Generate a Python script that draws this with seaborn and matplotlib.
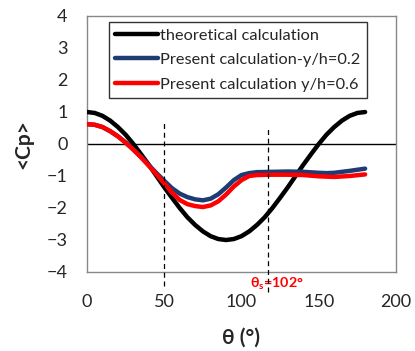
import numpy as np
import pandas as pd
import matplotlib
matplotlib.use("Agg")
import matplotlib.pyplot as plt
import seaborn as sns

# ---- data ----
theta_theory = [0, 5, 10, 15, 20, 25, 30, 35, 40, 45, 50, 55, 60, 65, 70, 75, 80, 85, 90,
                95, 100, 105, 110, 115, 120, 125, 130, 135, 140, 145, 150, 155, 160, 165, 170, 175, 180]
cp_theory = [1.0, 0.97, 0.88, 0.73, 0.53, 0.29, 0.0, -0.32, -0.65, -1.0, -1.35, -1.68, -2.0,
             -2.29, -2.53, -2.73, -2.88, -2.97, -3.0, -2.97, -2.88, -2.73, -2.53, -2.29, -2.0,
             -1.68, -1.35, -1.0, -0.65, -0.32, 0.0, 0.29, 0.53, 0.73, 0.88, 0.97, 1.0]

theta_calc = [0, 5, 10, 15, 20, 25, 30, 35, 40, 45, 50, 55, 60, 65, 70, 75, 80, 85, 90,
              95, 100, 105, 110, 120, 130, 140, 150, 155, 160, 170, 180]
cp_y02 = [0.62, 0.60, 0.53, 0.40, 0.24, 0.05, -0.17, -0.40, -0.66, -0.91, -1.15, -1.38, -1.55,
          -1.66, -1.73, -1.76, -1.71, -1.57, -1.36, -1.13, -0.97, -0.91, -0.88, -0.87, -0.86,
          -0.87, -0.90, -0.91, -0.90, -0.84, -0.77]
cp_y06 = [0.62, 0.60, 0.53, 0.40, 0.24, 0.04, -0.18, -0.42, -0.68, -0.95, -1.23, -1.52, -1.75,
          -1.88, -1.94, -1.97, -1.92, -1.79, -1.58, -1.33, -1.13, -1.00, -0.97, -0.96, -0.96,
          -0.97, -1.01, -1.02, -1.03, -1.00, -0.95]

series_names = ["theoretical calculation", "Present calculation-y/h=0.2", "Present calculation y/h=0.6"]
series_colors = ["#000000", "#1f3b73", "#ff0000"]

marker_theta = [50, 117]
marker_top = [0.67, 0.53]
marker_bottom = [-4.45, -4.63]
annot_text = "θ$_\\mathregular{s}$=102°"

x_ticks = [0, 50, 100, 150, 200]
y_ticks = [-4, -3, -2, -1, 0, 1, 2, 3, 4]

df = pd.concat([
    pd.DataFrame({"theta": theta_theory, "cp": cp_theory, "series": series_names[0]}),
    pd.DataFrame({"theta": theta_calc, "cp": cp_y02, "series": series_names[1]}),
    pd.DataFrame({"theta": theta_calc, "cp": cp_y06, "series": series_names[2]}),
])

sns.set_theme(style="white")
plt.rcParams["font.family"] = ["Lato", "DejaVu Sans"]
plt.rcParams["mathtext.default"] = "regular"

fig = plt.figure(figsize=(4.15, 3.51), dpi=100)
ax = fig.add_axes([87 / 415, 1 - 272 / 351, (396 - 87) / 415, (272 - 16) / 351])

ax.axhline(0, color="black", lw=1.0, zorder=1)

sns.lineplot(data=df, x="theta", y="cp", hue="series", hue_order=series_names,
             palette=series_colors, lw=3.2, ax=ax, sort=False, legend=True, zorder=3,
             solid_joinstyle="round", solid_capstyle="round")

ax.vlines(marker_theta, marker_bottom, marker_top, colors="black", linestyles=(0, (4, 3)),
          lw=0.9, clip_on=False, zorder=4)

ax.set_xlim(0, 200)
ax.set_ylim(-4, 4)
ax.set_xticks(x_ticks)
ax.set_yticks(y_ticks)
ax.tick_params(axis="both", labelsize=13, labelcolor="#262626", direction="out",
               length=6, width=1, pad=8, color="#888888")
ax.tick_params(axis="x", pad=10)
for sp in ax.spines.values():
    sp.set_color("#888888")
    sp.set_linewidth(1.0)

ax.set_xlabel("θ (°)", fontsize=15, fontweight="bold")
ax.set_ylabel("<Cp>", fontsize=15, fontweight="bold")
ax.xaxis.set_label_coords(0.498, -0.258)
ax.yaxis.set_label_coords(-0.205, 0.5)
ax.xaxis.label.set_va("center")
ax.yaxis.label.set_va("center")

ax.text(0.615, -0.045, annot_text, transform=ax.transAxes, color="#ff0000", fontsize=10.3,
        fontweight="bold", ha="center", va="center", zorder=2)

leg = ax.legend(loc="upper left", bbox_to_anchor=(0.071, 0.977), fontsize=11.8,
                frameon=True, fancybox=False, edgecolor="black", handlelength=2.6,
                handletextpad=0.1, borderpad=0.4, labelspacing=0.6, borderaxespad=0)
leg.get_frame().set_linewidth(1.0)
for line in leg.get_lines():
    line.set_linewidth(3.2)

fig.savefig("out.png", dpi=100)
